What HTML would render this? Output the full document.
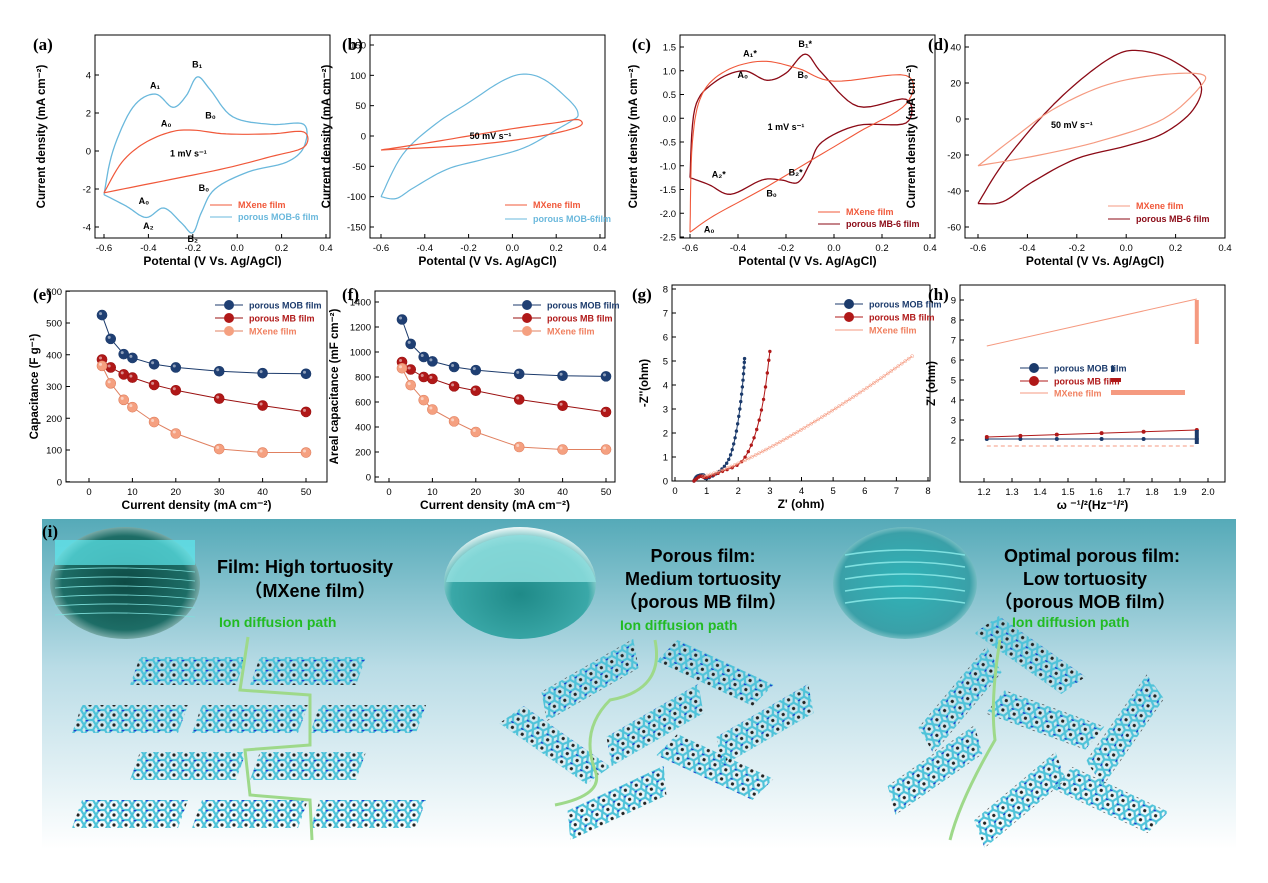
<!DOCTYPE html>
<html><head><meta charset="utf-8">
<style>
html,body{margin:0;padding:0;background:#fff;overflow:hidden;}
svg{display:block;font-family:"Liberation Sans",sans-serif;}
</style></head>
<body>
<svg id="s" width="1268" height="883" viewBox="0 0 1268 883" xmlns="http://www.w3.org/2000/svg">
<defs>
<linearGradient id="bg" x1="0" y1="0" x2="0" y2="1">
<stop offset="0" stop-color="#55aab8"/><stop offset="0.45" stop-color="#b9dce6"/><stop offset="1" stop-color="#ffffff"/>
</linearGradient>
<pattern id="mol" width="12" height="10" patternUnits="userSpaceOnUse">
<path d="M0 5 L3 0 L9 0 L12 5 L9 10 L3 10 Z" fill="none" stroke="#4fc3d9" stroke-width="2.2"/>
<circle cx="6" cy="5" r="1.6" fill="#222"/>
<circle cx="3" cy="0" r="1.5" fill="#1a3fcc"/>
</pattern>
<radialGradient id="b1" cx="0.5" cy="0.5" r="0.6"><stop offset="0" stop-color="#0d4a44"/><stop offset="0.7" stop-color="#1d6d66"/><stop offset="1" stop-color="#e8f4f6"/></radialGradient>
<radialGradient id="b2" cx="0.5" cy="0.6" r="0.6"><stop offset="0" stop-color="#1f8a88"/><stop offset="0.75" stop-color="#3aa8a8"/><stop offset="1" stop-color="#eef8f8"/></radialGradient>
<radialGradient id="b3" cx="0.5" cy="0.5" r="0.6"><stop offset="0" stop-color="#2fb4b8"/><stop offset="0.75" stop-color="#3aa0a8"/><stop offset="1" stop-color="#e6f4f6"/></radialGradient>
<clipPath id="cp"><rect x="0" y="0" width="1268" height="883"/></clipPath>
</defs>
<g id="g" clip-path="url(#cp)"></g>
</svg>
<script>
const NS="http://www.w3.org/2000/svg";
const G=document.getElementById('g');
function el(t,a,txt,parent){const e=document.createElementNS(NS,t);for(const k in a)e.setAttribute(k,a[k]);if(txt!==undefined&&txt!==null)e.textContent=txt;(parent||G).appendChild(e);return e;}
function txt(x,y,s,o){o=o||{};return el('text',Object.assign({x:x,y:y,'font-size':o.fs||11,'font-weight':o.fw||'bold','text-anchor':o.a||'middle',fill:o.fill||'#000'},o.extra||{}),s);}
function panel(p){
 const [L,T,R,B]=p.box;
 const X=v=>p.x0[1]+(v-p.x0[0])*(p.x1[1]-p.x0[1])/(p.x1[0]-p.x0[0]);
 const Y=v=>p.y0[1]+(v-p.y0[0])*(p.y1[1]-p.y0[1])/(p.y1[0]-p.y0[0]);
 el('rect',{x:L,y:T,width:R-L,height:B-T,fill:'none',stroke:'#000','stroke-width':1});
 p.xt.forEach(v=>{const x=X(v);el('line',{x1:x,y1:B,x2:x,y2:B-4,stroke:'#000'});txt(x,B+13,p.xf?p.xf(v):String(v),{fs:9.5,fw:'normal'});});
 p.yt.forEach(v=>{const y=Y(v);el('line',{x1:L,y1:y,x2:L+4,y2:y,stroke:'#000'});txt(L-4,y+3.5,p.yf?p.yf(v):String(v),{fs:9.5,fw:'normal',a:'end'});});
 txt((L+R)/2,B+27,p.xl,{fs:12});
 el('text',{x:p.ylx,y:(T+B)/2,'font-size':11.5,'font-weight':'bold','text-anchor':'middle',transform:`rotate(-90 ${p.ylx} ${(T+B)/2})`},p.yl);
 txt(p.lab[0],p.lab[1],p.labt,{fs:17,a:'start',extra:{'font-family':'Liberation Serif'}});
 return {X,Y};
}
function curve(P,pts,col,w,closed,extra){
 let d='';pts.forEach((q,i)=>{d+=(i?'L':'M')+P.X(q[0]).toFixed(1)+' '+P.Y(q[1]).toFixed(1)+' ';});
 if(closed)d+='Z';
 el('path',Object.assign({d:d,fill:'none',stroke:col,'stroke-width':w||1.2,'stroke-linejoin':'round'},extra||{}));
}
function smooth(pts,n){n=n||8;const out=[];const m=pts.length;
 for(let i=0;i<m-1;i++){const p0=pts[Math.max(i-1,0)],p1=pts[i],p2=pts[i+1],p3=pts[Math.min(i+2,m-1)];
  for(let t=0;t<n;t++){const s=t/n,s2=s*s,s3=s2*s;
   out.push([0.5*((2*p1[0])+(-p0[0]+p2[0])*s+(2*p0[0]-5*p1[0]+4*p2[0]-p3[0])*s2+(-p0[0]+3*p1[0]-3*p2[0]+p3[0])*s3),
             0.5*((2*p1[1])+(-p0[1]+p2[1])*s+(2*p0[1]-5*p1[1]+4*p2[1]-p3[1])*s2+(-p0[1]+3*p1[1]-3*p2[1]+p3[1])*s3)]);}}
 out.push(pts[m-1]);return out;}
const RED='#f0583a',BLUE='#6ab8dc',DRED='#8b0a16',SAL='#f59a80',NAVY='#1b3a6b';
const xf1=v=>v.toFixed(1);
const cvx=[-0.6,-0.4,-0.2,0,0.2,0.4];
// (a)
let A=panel({box:[95,35,330,238],x0:[-0.6,104],x1:[0.4,326],y0:[4,75],y1:[-4,227],xt:cvx,xf:xf1,yt:[-4,-2,0,2,4],xl:'Potental (V Vs. Ag/AgCl)',yl:'Current density (mA cm⁻²)',ylx:45,lab:[33,50],labt:'(a)'});
curve(A,smooth([[-0.6,-2.3],[-0.56,0],[-0.47,2.3],[-0.37,3.0],[-0.29,2.3],[-0.23,2.9],[-0.18,3.9],[-0.12,3.2],[-0.02,1.8],[0.15,1.4],[0.3,1.4],[0.3,0.2],[0.22,-0.6],[0.05,-1.1],[-0.1,-2.0],[-0.16,-3.2],[-0.2,-4.3],[-0.25,-3.8],[-0.33,-3.0],[-0.41,-3.5],[-0.5,-2.9],[-0.6,-2.3]]),BLUE,1.3);
curve(A,smooth([[-0.6,-2.2],[-0.52,-0.6],[-0.42,0.4],[-0.3,1.0],[-0.2,1.1],[-0.05,0.9],[0.15,0.9],[0.3,1.0],[0.3,0.2],[0.15,-0.3],[-0.05,-0.9],[-0.3,-1.5],[-0.6,-2.2]]),RED,1.2);
[['A₁',-0.37,3.3],['B₁',-0.18,4.4],['A₀',-0.32,1.3],['B₀',-0.12,1.7],['1 mV s⁻¹',-0.22,-0.3],['B₀',-0.15,-2.1],['A₀',-0.42,-2.8],['A₂',-0.4,-4.1],['B₂',-0.2,-4.8]].forEach(t=>txt(A.X(t[1]),A.Y(t[2]),t[0],{fs:9}));
el('line',{x1:210,y1:205,x2:232,y2:205,stroke:RED});txt(238,208,'MXene film',{fs:9,a:'start',fill:RED});
el('line',{x1:210,y1:217,x2:232,y2:217,stroke:BLUE});txt(238,220,'porous MOB-6 film',{fs:9,a:'start',fill:BLUE});
// (b)
let Bp=panel({box:[370,35,605,238],x0:[-0.6,381],x1:[0.4,600],y0:[150,45],y1:[-150,227],xt:cvx,xf:xf1,yt:[-150,-100,-50,0,50,100,150],xl:'Potental (V Vs. Ag/AgCl)',yl:'Current density (mA cm⁻²)',ylx:330,lab:[342,50],labt:'(b)'});
curve(Bp,smooth([[-0.6,-100],[-0.5,-30],[-0.35,20],[-0.2,55],[-0.05,90],[0.05,102],[0.15,92],[0.27,55],[0.3,35],[0.27,25],[0.2,10],[0.05,-20],[-0.15,-40],[-0.3,-55],[-0.45,-85],[-0.53,-103],[-0.6,-100]]),BLUE,1.2);
curve(Bp,smooth([[-0.6,-23],[-0.4,-12],[-0.2,0],[0,12],[0.2,22],[0.3,27],[0.3,15],[0.1,-2],[-0.2,-15],[-0.6,-23]]),RED,1.2);
txt(Bp.X(-0.1),Bp.Y(-5),'50 mV s⁻¹',{fs:9});
el('line',{x1:505,y1:205,x2:527,y2:205,stroke:RED});txt(533,208,'MXene film',{fs:9,a:'start',fill:RED});
el('line',{x1:505,y1:219,x2:527,y2:219,stroke:BLUE});txt(533,222,'porous MOB-6film',{fs:9,a:'start',fill:BLUE});
// (c)
let C=panel({box:[680,35,935,238],x0:[-0.6,690],x1:[0.4,930],y0:[1.5,47],y1:[-2.5,237],xt:cvx,xf:xf1,yt:[-2.5,-2.0,-1.5,-1.0,-0.5,0.0,0.5,1.0,1.5],yf:v=>v.toFixed(1),xl:'Potental (V Vs. Ag/AgCl)',yl:'Current density (mA cm⁻²)',ylx:637,lab:[632,50],labt:'(c)'});
curve(C,smooth([[-0.6,-1.25],[-0.58,0.2],[-0.5,0.75],[-0.38,1.0],[-0.28,0.8],[-0.2,0.95],[-0.12,1.35],[-0.05,0.95],[0.1,0.25],[0.3,0.4],[0.3,-0.1],[0.1,-0.15],[-0.05,-0.5],[-0.1,-0.95],[-0.15,-1.35],[-0.22,-1.3],[-0.3,-1.3],[-0.43,-1.6],[-0.52,-1.4],[-0.6,-1.25]]),DRED,1.3);
curve(C,smooth([[-0.6,-2.4],[-0.59,-0.5],[-0.55,0.5],[-0.45,1.0],[-0.3,1.2],[-0.15,1.05],[0,0.78],[0.3,0.9],[0.3,0.3],[0.1,-0.3],[-0.1,-0.9],[-0.3,-1.5],[-0.5,-2.05],[-0.6,-2.4]]),RED,1.1);
[['A₁*',-0.35,1.3],['B₁*',-0.12,1.5],['A₀',-0.38,0.85],['B₀',-0.13,0.85],['1 mV s⁻¹',-0.2,-0.25],['A₂*',-0.48,-1.25],['B₂*',-0.16,-1.2],['B₀',-0.26,-1.65],['A₀',-0.52,-2.4]].forEach(t=>txt(C.X(t[1]),C.Y(t[2]),t[0],{fs:9}));
el('line',{x1:818,y1:212,x2:840,y2:212,stroke:RED});txt(846,215,'MXene film',{fs:9,a:'start',fill:RED});
el('line',{x1:818,y1:224,x2:840,y2:224,stroke:DRED});txt(846,227,'porous MB-6 film',{fs:9,a:'start',fill:DRED});
// (d)
let D=panel({box:[965,35,1225,238],x0:[-0.6,978],x1:[0.4,1225],y0:[40,47],y1:[-60,227],xt:cvx,xf:xf1,yt:[-60,-40,-20,0,20,40],xl:'Potental (V Vs. Ag/AgCl)',yl:'Current density (mA cm⁻²)',ylx:915,lab:[928,50],labt:'(d)'});
curve(D,smooth([[-0.6,-47],[-0.5,-25],[-0.35,0],[-0.2,20],[-0.05,35],[0.05,38],[0.18,33],[0.3,20],[0.27,5],[0.15,-8],[0,-15],[-0.2,-22],[-0.38,-35],[-0.5,-46],[-0.6,-47]]),DRED,1.3);
curve(D,smooth([[-0.6,-26],[-0.45,-10],[-0.3,5],[-0.1,18],[0.1,24],[0.3,25],[0.3,18],[0.15,0],[-0.1,-12],[-0.35,-20],[-0.6,-26]]),SAL,1.2);
txt(D.X(-0.22),D.Y(-5),'50 mV s⁻¹',{fs:9});
el('line',{x1:1108,y1:206,x2:1130,y2:206,stroke:SAL});txt(1136,209,'MXene  film',{fs:9,a:'start',fill:RED});
el('line',{x1:1108,y1:219,x2:1130,y2:219,stroke:DRED});txt(1136,222,'porous  MB-6 film',{fs:9,a:'start',fill:DRED});
// (e)
const cd=[3,5,8,10,15,20,30,40,50];
function balls(P,ys,col,fill){curve(P,cd.map((c,i)=>[c,ys[i]]),col,1);cd.forEach((c,i)=>{el('circle',{cx:P.X(c),cy:P.Y(ys[i]),r:5,fill:fill,stroke:col,'stroke-width':0.6});el('circle',{cx:P.X(c)-1.5,cy:P.Y(ys[i])-1.5,r:1.5,fill:'#fff',opacity:0.5});});}
let E=panel({box:[66,291,327,482],x0:[0,89],x1:[50,306],y0:[500,323],y1:[100,450],xt:[0,10,20,30,40,50],yt:[0,100,200,300,400,500,600],xl:'Current density (mA cm⁻²)',yl:'Capacitance (F g⁻¹)',ylx:38,lab:[33,300],labt:'(e)'});
balls(E,[525,450,402,390,370,360,348,342,340],NAVY,'#1f3f73');
balls(E,[385,360,338,328,305,288,262,240,220],'#9a1010','#b01818');
balls(E,[365,310,258,235,188,152,103,92,92],'#e08060','#f5a080');
function leg(x,y,col,fill,t,tc){el('line',{x1:x,y1:y,x2:x+28,y2:y,stroke:col});if(fill!=='none')el('circle',{cx:x+14,cy:y,r:5,fill:fill});txt(x+34,y+3.5,t,{fs:9,a:'start',fill:tc});}
leg(215,305,NAVY,'#1f3f73','porous  MOB film',NAVY);leg(215,318,'#9a1010','#b01818','porous MB film','#b01818');leg(215,331,'#e08060','#f5a080','MXene film','#f08060');
// (f)
let F=panel({box:[375,291,615,482],x0:[0,389],x1:[50,606],y0:[1400,302],y1:[200,452],xt:[0,10,20,30,40,50],yt:[0,200,400,600,800,1000,1200,1400],xl:'Current density (mA cm⁻²)',yl:'Areal capacitance (mF cm⁻²)',ylx:338,lab:[342,300],labt:'(f)'});
balls(F,[1260,1065,960,925,880,855,825,810,805],NAVY,'#1f3f73');
balls(F,[920,860,800,785,725,690,620,570,520],'#9a1010','#b01818');
balls(F,[870,735,615,540,445,360,240,220,220],'#e08060','#f5a080');
leg(513,305,NAVY,'#1f3f73','porous  MOB film',NAVY);leg(513,318,'#9a1010','#b01818','porous MB film','#b01818');leg(513,331,'#e08060','#f5a080','MXene film','#f08060');
// (g)
let Gp=panel({box:[672,285,930,481],x0:[0,675],x1:[8,928],y0:[0,481],y1:[8,289],xt:[0,1,2,3,4,5,6,7,8],yt:[0,1,2,3,4,5,6,7,8],xl:"Z' (ohm)",yl:"-Z''(ohm)",ylx:648,lab:[632,300],labt:'(g)'});
function dots(P,pts,col,r){pts.forEach(q=>el('circle',{cx:P.X(q[0]),cy:P.Y(q[1]),r:r||1.6,fill:col}));}
let gb=smooth([[0.6,0],[0.7,0.2],[0.9,0.25],[1.0,0.1],[1.4,0.4],[1.7,0.9],[1.9,1.8],[2.05,3],[2.15,4.2],[2.2,5.1]],4);
let gr=smooth([[0.6,0],[0.8,0.2],[1.0,0.15],[1.5,0.4],[2.1,0.8],[2.5,1.8],[2.8,3.4],[3.0,5.4]],4);
let gp=[];for(let i=0;i<=60;i++){const z=0.9+i*(6.6/60);gp.push([z,0.2+Math.pow((z-0.9)/6.6,1.25)*5]);}
curve(Gp,gb,NAVY,1);dots(Gp,gb,NAVY,1.7);
curve(Gp,gr,'#b01818',1);dots(Gp,gr,'#b01818',1.7);
curve(Gp,gp,SAL,0.8);gp.forEach(q=>el('circle',{cx:Gp.X(q[0]),cy:Gp.Y(q[1]),r:1.6,fill:'none',stroke:SAL,'stroke-width':0.5}));
leg(835,304,NAVY,NAVY,'porous MOB film',NAVY);leg(835,317,'#b01818','#b01818','porous MB film','#b01818');leg(835,330,SAL,'none','MXene film','#f08060');
// (h)
let H=panel({box:[960,285,1225,482],x0:[1.2,984],x1:[2.0,1208],y0:[2,440],y1:[9,300],xt:[1.2,1.3,1.4,1.5,1.6,1.7,1.8,1.9,2.0],xf:xf1,yt:[2,3,4,5,6,7,8,9],xl:'ω ⁻¹/²(Hz⁻¹/²)',yl:"Z' (ohm)",ylx:935,lab:[928,300],labt:'(h)'});
curve(H,[[1.21,6.7],[1.96,9.05]],SAL,1);
el('rect',{x:H.X(1.96)-2,y:H.Y(9),width:4,height:H.Y(6.8)-H.Y(9),fill:SAL});
curve(H,[[1.21,1.7],[1.96,1.7]],SAL,1,false,{'stroke-dasharray':'4 3'});
curve(H,[[1.21,2.05],[1.96,2.05]],NAVY,1);curve(H,[[1.21,2.15],[1.96,2.5]],'#b01818',1);
[1.21,1.33,1.46,1.62,1.77,1.96].forEach(x=>{dots(H,[[x,2.05]],NAVY,2);dots(H,[[x,2.15+(x-1.21)*0.47]],'#b01818',2);});
el('rect',{x:H.X(1.96)-2,y:H.Y(2.5),width:4,height:H.Y(1.8)-H.Y(2.5),fill:NAVY});
el('rect',{x:1111,y:366,width:3,height:6,fill:NAVY});el('rect',{x:1111,y:378,width:10,height:4,fill:'#b01818'});el('rect',{x:1111,y:390,width:74,height:5,fill:SAL});
leg(1020,368,NAVY,NAVY,'porous MOB film',NAVY);leg(1020,381,'#b01818','#b01818','porous MB film','#b01818');leg(1020,393,SAL,'none','MXene film','#f08060');
// (i)
el('rect',{x:42,y:519,width:1194,height:330,fill:'url(#bg)'});
txt(42,537,'(i)',{fs:17,a:'start',extra:{'font-family':'Liberation Serif'}});
el('ellipse',{cx:125,cy:583,rx:75,ry:56,fill:'url(#b1)'});
el('rect',{x:55,y:540,width:140,height:25,fill:'#5ee8ee',opacity:0.7});
for(let i=0;i<6;i++)el('path',{d:`M55 ${570+i*9} Q125 ${565+i*9} 195 ${572+i*9}`,stroke:'#7fe0dc','stroke-width':0.8,fill:'none'});
el('ellipse',{cx:520,cy:583,rx:76,ry:56,fill:'url(#b2)'});
el('path',{d:'M446 582 A76 56 0 0 1 596 582 Z',fill:'#8fdede',opacity:0.85});
el('ellipse',{cx:905,cy:583,rx:72,ry:56,fill:'url(#b3)'});
for(let i=0;i<5;i++)el('path',{d:`M845 ${555+i*12} Q905 ${545+i*12} 965 ${555+i*12}`,stroke:'#7fe0e0','stroke-width':1.5,fill:'none'});
txt(305,573,'Film: High tortuosity',{fs:18});txt(310,597,'（MXene film）',{fs:18,extra:{'font-family':'Liberation Sans, Noto Sans CJK SC, sans-serif'}});
txt(703,562,'Porous film:',{fs:18});txt(703,585,'Medium tortuosity',{fs:18});txt(703,608,'（porous MB film）',{fs:18,extra:{'font-family':'Liberation Sans, Noto Sans CJK SC, sans-serif'}});
txt(1092,562,'Optimal porous film:',{fs:18});txt(1085,585,'Low tortuosity',{fs:18});txt(1085,608,'（porous MOB film）',{fs:18,extra:{'font-family':'Liberation Sans, Noto Sans CJK SC, sans-serif'}});
txt(219,627,'Ion diffusion path',{fs:14,a:'start',fill:'#22bb22'});
txt(620,630,'Ion diffusion path',{fs:14,a:'start',fill:'#22bb22'});
txt(1012,627,'Ion diffusion path',{fs:14,a:'start',fill:'#22bb22'});
function sheet(cx,cy,rot,w,h){w=w||108;h=h||28;const g=el('g',{transform:`rotate(${rot} ${cx} ${cy})`});el('path',{d:`M${cx-w/2+6} ${cy-h/2} L${cx+w/2+4} ${cy-h/2} L${cx+w/2-6} ${cy+h/2} L${cx-w/2-4} ${cy+h/2} Z`,fill:'url(#mol)'},null,g);}
// left
[[188,671],[308,671],[130,719],[250,719],[368,719],[188,766],[308,766],[130,814],[250,814],[368,814]].forEach(p=>sheet(p[0],p[1],0));
// middle
[[590,680,-30],[715,673,25],[555,745,35],[655,725,-30],[765,725,-30],[715,767,25],[617,803,-25]].forEach(p=>sheet(p[0],p[1],p[2]));
// right
[[960,700,-50],[1030,655,35],[1045,720,20],[1125,730,-55],[935,770,-35],[1110,800,25],[1020,800,-40]].forEach(p=>sheet(p[0],p[1],p[2]));
el('path',{d:'M248 637 L240 690 L310 695 L310 745 L245 750 L250 795 L310 800 L312 840',stroke:'#9ed98a','stroke-width':3,fill:'none'});
el('path',{d:'M655 640 Q665 690 610 700 Q580 730 595 770 Q605 795 555 805',stroke:'#9ed98a','stroke-width':3,fill:'none'});
el('path',{d:'M1000 640 Q990 700 995 740 Q960 800 950 840',stroke:'#9ed98a','stroke-width':3,fill:'none'});
</script>
</body></html>
